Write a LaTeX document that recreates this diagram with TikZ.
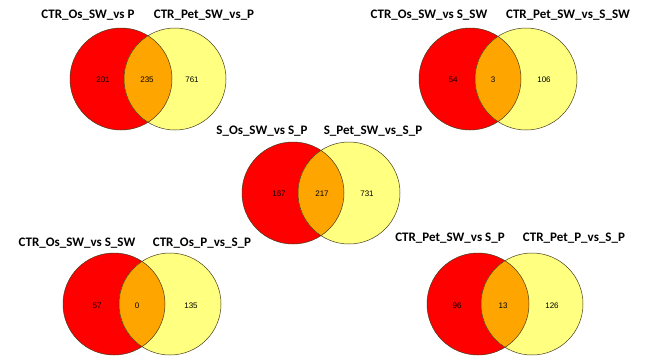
\documentclass[tikz,border=0pt]{standalone}
\usepackage{fontspec}
\usepackage{xcolor}
\usepackage{tikz}
\newfontfamily\titlefont{Carlito}
\newfontfamily\numfont{Liberation Sans}
\definecolor{vred}{RGB}{255,0,0}
\definecolor{vyel}{RGB}{255,255,128}
\definecolor{vorange}{RGB}{255,165,0}
\definecolor{vedge}{RGB}{70,60,30}

% one pair of overlapping circles: left centre, right centre (x,y)
\newcommand{\vennpair}[3]{%
  \fill[vred] (#1,#3) circle (51pt);
  \fill[vyel] (#2,#3) circle (51pt);
  \begin{scope}
    \clip (#1,#3) circle (51pt);
    \fill[vorange] (#2,#3) circle (51pt);
  \end{scope}
  \draw[vedge,line width=0.5pt] (#1,#3) circle (51pt);
  \draw[vedge,line width=0.5pt] (#2,#3) circle (51pt);
}

\begin{document}
\begin{tikzpicture}[x=1pt,y=-1pt,
    title/.style={font=\titlefont\bfseries\fontsize{13}{15}\selectfont,inner sep=0pt},
    num/.style={font=\numfont\fontsize{8}{9}\selectfont,inner sep=0pt}]
    \useasboundingbox[fill=white] (0,0) rectangle (650,360);

    % top left
    \vennpair{121}{175}{79}
    \node[title] (t1a) at (88,15) {CTR\_Os\_SW\_vs P};
    \node[title] (t1b) at (204,15) {CTR\_Pet\_SW\_vs\_P};
    \node[num] (n1a) at (103,80) {201};
    \node[num] (n1b) at (147,80) {235};
    \node[num] (n1c) at (192,80) {761};

    % top right
    \vennpair{470}{526}{79}
    \node[title] (t2a) at (429,15) {CTR\_Os\_SW\_vs S\_SW};
    \node[title] (t2b) at (568,15) {CTR\_Pet\_SW\_vs\_S\_SW};
    \node[num] (n2a) at (453,80) {54};
    \node[num] (n2b) at (493,80) {3};
    \node[num] (n2c) at (544,80) {106};

    % middle
    \vennpair{293}{349}{193}
    \node[title] (t3a) at (262,131) {S\_Os\_SW\_vs S\_P};
    \node[title] (t3b) at (373,131) {S\_Pet\_SW\_vs\_S\_P};
    \node[num] (n3a) at (279,194) {167};
    \node[num] (n3b) at (322,194) {217};
    \node[num] (n3c) at (367,194) {731};

    % bottom left
    \vennpair{114}{170}{304}
    \node[title] (t4a) at (77,243) {CTR\_Os\_SW\_vs S\_SW};
    \node[title] (t4b) at (202,243) {CTR\_Os\_P\_vs\_S\_P};
    \node[num] (n4a) at (97,306) {57};
    \node[num] (n4b) at (137,306) {0};
    \node[num] (n4c) at (191,306) {135};

    % bottom right
    \vennpair{478}{532}{304}
    \node[title] (t5a) at (450,238) {CTR\_Pet\_SW\_vs S\_P};
    \node[title] (t5b) at (574,238) {CTR\_Pet\_P\_vs\_S\_P};
    \node[num] (n5a) at (457,306) {96};
    \node[num] (n5b) at (503,306) {13};
    \node[num] (n5c) at (552,306) {126};
\end{tikzpicture}
\end{document}
